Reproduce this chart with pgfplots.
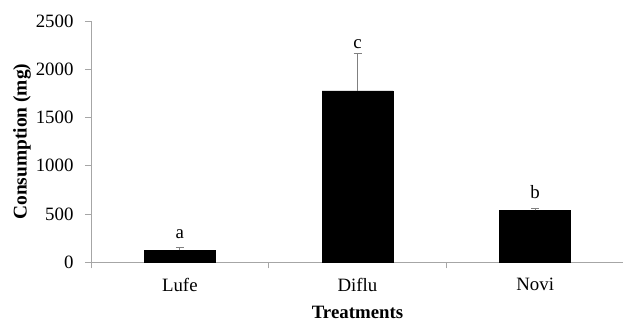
\documentclass[border=0pt]{standalone}
\usepackage{fontspec}
\setmainfont{Liberation Serif}
\usepackage{pgfplots}
\pgfplotsset{compat=1.18}
\begin{document}
\begin{tikzpicture}[font=\fontsize{18.9}{22}\selectfont]
\begin{axis}[
  at={(0,0)}, anchor=south west,
  scale only axis, width=533bp, height=241.3bp,
  xmin=-0.5, xmax=2.5, ymin=0, ymax=2500,
  axis lines*=left,
  axis line style={gray!70, -, line width=0.7pt},
  xtick={-0.5,0.5,1.5,2.5},
  xticklabels={Lufe,Diflu,Novi},
  x tick label as interval,
  ytick={0,500,1000,1500,2000,2500},
  tick style={gray!70, line width=0.7pt},
  tick align=outside,
  major tick length=6bp,
  /pgf/number format/assume math mode=true,
  /pgf/number format/1000 sep={},
  yticklabel style={xshift=-8bp},
  xticklabel style={yshift=-6bp},
  ylabel={\textbf{Consumption (mg)}},
  xlabel={\textbf{Treatments}},
  ylabel style={at={(axis description cs:-0.1295,0.5)}, anchor=center, font=\fontsize{19.5}{22}\selectfont},
  xlabel style={at={(axis description cs:0.5,-0.207)}, anchor=center},
  clip=false,
]
\addplot[ybar, bar width=71bp, fill=black, draw=black,
  error bars/.cd, y dir=plus, y explicit,
  error bar style={gray, line width=0.8pt},
  error mark options={rotate=90, mark size=4bp, gray, line width=0.8pt}]
  coordinates {(0,127) +- (0,24) (1,1775) +- (0,391) (2,539) +- (0,16)};
\node[anchor=base] at (axis cs:0,249) {a};
\node[anchor=base] at (axis cs:1,2218) {c};
\node[anchor=base] at (axis cs:2,656) {b};
\end{axis}
\pgfresetboundingbox
\path (-91bp,-58.7bp) rectangle (532bp,262.3bp);
\end{tikzpicture}
\end{document}
